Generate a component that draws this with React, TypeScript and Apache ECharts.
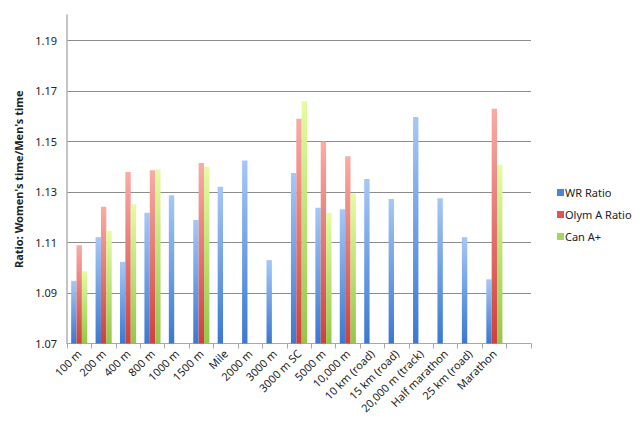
import React, { useEffect, useRef } from "react";
import * as echarts from "echarts";

const categories = [
  "100 m", "200 m", "400 m", "800 m", "1000 m", "1500 m", "Mile", "2000 m", "3000 m",
  "3000 m SC", "5000 m", "10,000 m", "10 km (road)", "15 km (road)", "20,000 m (track)",
  "Half marathon", "25 km (road)", "Marathon", "",
];
const wrRatio = [
  1.0948, 1.1121, 1.1023, 1.1217, 1.1287, 1.1189, 1.132, 1.1424, 1.103,
  1.1375, 1.1237, 1.1231, 1.1351, 1.1272, 1.1596, 1.1275, 1.1121, 1.0954, null,
];
const olymARatio = [
  1.1089, 1.1241, 1.1379, 1.1386, null, 1.1414, null, null, null,
  1.1589, 1.1499, 1.1441, null, null, null, null, null, 1.1629, null,
];
const canAPlus = [
  1.0986, 1.1146, 1.1251, 1.139, null, 1.1399, null, null, null,
  1.1659, 1.1216, 1.1295, null, null, null, null, null, 1.1407, null,
];
const seriesNames = ["WR Ratio", "Olym A Ratio", "Can A+"];
const yName = "Ratio: Women's time/Men's time";

const FONT = "'Noto Sans', sans-serif";

function grad(top: string, bottom: string) {
  return new echarts.graphic.LinearGradient(0, 0, 0, 1, [
    { offset: 0, color: top },
    { offset: 1, color: bottom },
  ]);
}

export default function App() {
  const ref = useRef<HTMLDivElement>(null);
  useEffect(() => {
    if (!ref.current) return;
    const chart = echarts.init(ref.current, undefined, { renderer: "svg" });
    const colors = [
      ["#a6c8f7", "#3a78d0"],
      ["#f9aca6", "#d03f3b"],
      ["#e6fca3", "#95c649"],
    ];
    const solid = ["#4a86d8", "#e05550", "#a8d65a"];
    const datas = [wrRatio, olymARatio, canAPlus];
    chart.setOption({
      animation: false,
      backgroundColor: "#ffffff",
      textStyle: { fontFamily: FONT },
      grid: { left: 67, right: 109, top: 15, bottom: 80.5, containLabel: false },
      legend: {
        orient: "vertical",
        left: 552,
        top: 182,
        itemWidth: 7,
        itemHeight: 7,
        itemGap: 11,
        icon: "rect",
        textStyle: { fontSize: 11, color: "#222", fontFamily: FONT, padding: [0, 0, 0, -4] },
        data: seriesNames.map((n, i) => ({ name: n, itemStyle: { color: solid[i] } })),
      },
      xAxis: {
        type: "category",
        data: categories,
        boundaryGap: true,
        axisLine: { lineStyle: { color: "#a8a8a8", width: 1 } },
        axisTick: { show: true, length: 5, alignWithLabel: false, lineStyle: { color: "#a8a8a8" } },
        axisLabel: {
          interval: 0,
          rotate: 45,
          margin: 8,
          fontSize: 11,
          color: "#222",
          fontFamily: FONT,
        },
      },
      yAxis: {
        type: "value",
        min: 1.07,
        max: 1.2,
        interval: 0.01,
        name: yName,
        nameLocation: "middle",
        nameGap: 37,
        nameTextStyle: { fontSize: 11, fontWeight: "bold", color: "#222", fontFamily: FONT },
        axisLine: { show: true, lineStyle: { color: "#b0b0b0", width: 1.5 } },
        axisTick: { show: false },
        axisLabel: {
          margin: 10,
          fontSize: 11,
          color: "#222",
          fontFamily: FONT,
          showMaxLabel: false,
          formatter: (v: number) => (Math.round(v * 100) % 2 === 1 ? v.toFixed(2) : ""),
        },
        splitLine: {
          show: true,
          lineStyle: { color: ["#8c8c8c", "transparent"], width: 1 },
        },
      },
      series: seriesNames.map((name, i) => ({
        name,
        type: "bar",
        data: datas[i],
        barGap: "0%",
        barCategoryGap: "34%",
        itemStyle: { color: grad(colors[i][0], colors[i][1]) },
      })),
    });
    return () => chart.dispose();
  }, []);
  return (
    <div
      ref={ref}
      style={{ position: "fixed", left: 0, top: 0, width: 640, height: 424, background: "#fff" }}
    />
  );
}
